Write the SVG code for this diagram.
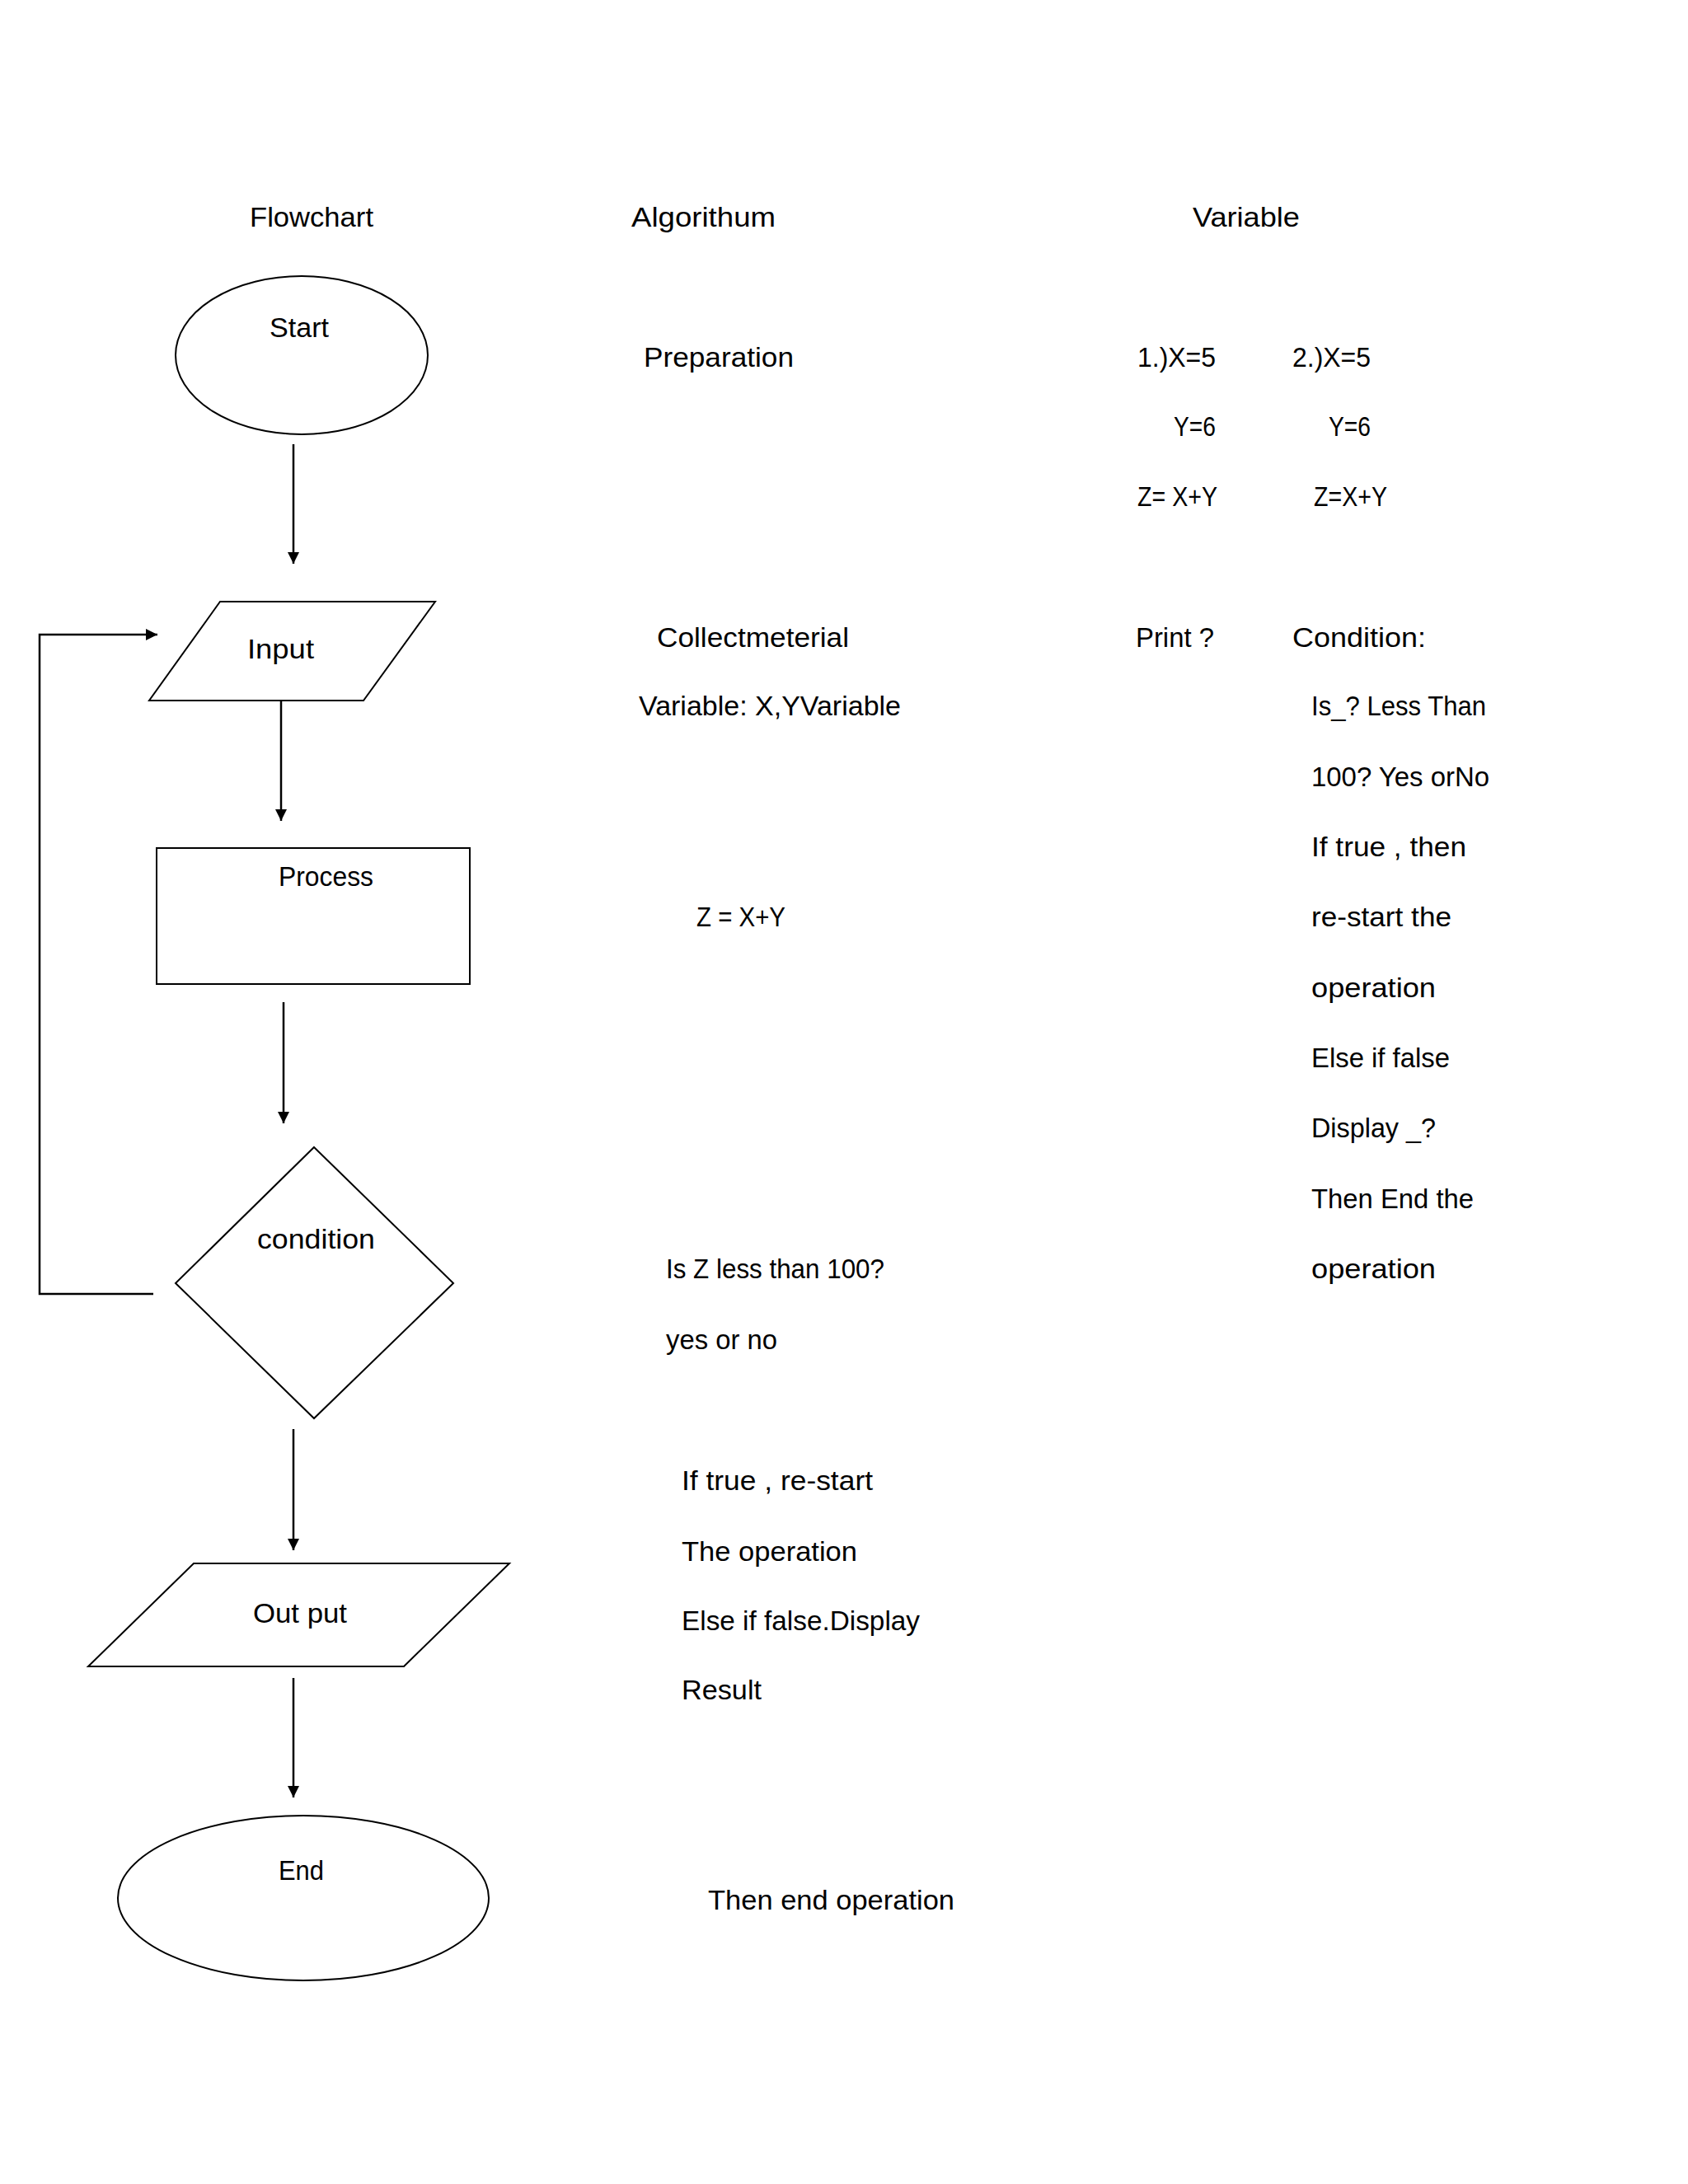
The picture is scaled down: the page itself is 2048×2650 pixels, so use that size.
<svg xmlns="http://www.w3.org/2000/svg" width="2048" height="2650" viewBox="0 0 2048 2650">
<style>
  .shape { fill: #ffffff; stroke: #000000; stroke-width: 2; }
  .conn { fill: none; stroke: #000000; stroke-width: 2.5; }
  text { font-family: "Liberation Sans", Arial, sans-serif; font-size: 34px; fill: #000000; }
</style>
<defs>
  <marker id="arrow" markerUnits="userSpaceOnUse" markerWidth="14" markerHeight="14" refX="14" refY="7" orient="auto">
    <path d="M0,0 L14,7 L0,14 z" fill="#000000"/>
  </marker>
</defs>
<rect x="0" y="0" width="2048" height="2650" fill="#ffffff"/>

<g id="headers">
  <text x="303" y="275" textLength="150" lengthAdjust="spacingAndGlyphs">Flowchart</text>
  <text x="766" y="275" textLength="175" lengthAdjust="spacingAndGlyphs">Algorithum</text>
  <text x="1447" y="275" textLength="130" lengthAdjust="spacingAndGlyphs">Variable</text>
</g>

<g id="connectors">
  <line class="conn" x1="356" y1="539" x2="356" y2="684" marker-end="url(#arrow)"/>
  <line class="conn" x1="341" y1="850" x2="341" y2="996" marker-end="url(#arrow)"/>
  <line class="conn" x1="344" y1="1216" x2="344" y2="1363" marker-end="url(#arrow)"/>
  <line class="conn" x1="356" y1="1734" x2="356" y2="1881" marker-end="url(#arrow)"/>
  <line class="conn" x1="356" y1="2036" x2="356" y2="2181" marker-end="url(#arrow)"/>
  <polyline class="conn" points="186,1570 48,1570 48,770 191,770" marker-end="url(#arrow)"/>
</g>

<g id="node-start">
  <ellipse class="shape" cx="366" cy="431" rx="153" ry="96"/>
  <text x="327" y="409" textLength="72" lengthAdjust="spacingAndGlyphs">Start</text>
</g>

<g id="node-input">
  <polygon class="shape" points="267,730 528,730 441,850 181,850"/>
  <text x="300" y="799" textLength="81" lengthAdjust="spacingAndGlyphs">Input</text>
</g>

<g id="node-process">
  <rect class="shape" x="190" y="1029" width="380" height="165"/>
  <text x="338" y="1075" textLength="115" lengthAdjust="spacingAndGlyphs">Process</text>
</g>

<g id="node-condition">
  <polygon class="shape" points="381,1392 550,1557 381,1721 213,1557"/>
  <text x="312" y="1515" textLength="143" lengthAdjust="spacingAndGlyphs">condition</text>
</g>

<g id="node-output">
  <polygon class="shape" points="235,1897 618,1897 490,2022 107,2022"/>
  <text x="307" y="1969" textLength="114" lengthAdjust="spacingAndGlyphs">Out put</text>
</g>

<g id="node-end">
  <ellipse class="shape" cx="368" cy="2303" rx="225" ry="100"/>
  <text x="338" y="2281" textLength="55" lengthAdjust="spacingAndGlyphs">End</text>
</g>

<g id="algorithm-text">
  <text x="781" y="445" textLength="182" lengthAdjust="spacingAndGlyphs">Preparation</text>
  <text x="797" y="785" textLength="233" lengthAdjust="spacingAndGlyphs">Collectmeterial</text>
  <text x="775" y="868" textLength="318" lengthAdjust="spacingAndGlyphs">Variable: X,YVariable</text>
  <text x="845" y="1124" textLength="108" lengthAdjust="spacingAndGlyphs">Z = X+Y</text>
  <text x="808" y="1551" textLength="265" lengthAdjust="spacingAndGlyphs">Is Z less than 100?</text>
  <text x="808" y="1637" textLength="135" lengthAdjust="spacingAndGlyphs">yes or no</text>
  <text x="827" y="1808" textLength="232" lengthAdjust="spacingAndGlyphs">If true , re-start</text>
  <text x="827" y="1894" textLength="213" lengthAdjust="spacingAndGlyphs">The operation</text>
  <text x="827" y="1978" textLength="289" lengthAdjust="spacingAndGlyphs">Else if false.Display</text>
  <text x="827" y="2062" textLength="97" lengthAdjust="spacingAndGlyphs">Result</text>
  <text x="859" y="2317" textLength="299" lengthAdjust="spacingAndGlyphs">Then end operation</text>
</g>

<g id="variable-text">
  <text x="1380" y="445" textLength="95" lengthAdjust="spacingAndGlyphs">1.)X=5</text>
  <text x="1568" y="445" textLength="95" lengthAdjust="spacingAndGlyphs">2.)X=5</text>
  <text x="1424" y="529" textLength="51" lengthAdjust="spacingAndGlyphs">Y=6</text>
  <text x="1612" y="529" textLength="51" lengthAdjust="spacingAndGlyphs">Y=6</text>
  <text x="1380" y="614" textLength="97" lengthAdjust="spacingAndGlyphs">Z= X+Y</text>
  <text x="1594" y="614" textLength="89" lengthAdjust="spacingAndGlyphs">Z=X+Y</text>
  <text x="1378" y="785" textLength="95" lengthAdjust="spacingAndGlyphs">Print ?</text>
  <text x="1568" y="785" textLength="162" lengthAdjust="spacingAndGlyphs">Condition:</text>
  <text x="1591" y="868" textLength="212" lengthAdjust="spacingAndGlyphs">Is_? Less Than</text>
  <text x="1591" y="954" textLength="216" lengthAdjust="spacingAndGlyphs">100? Yes orNo</text>
  <text x="1591" y="1039" textLength="188" lengthAdjust="spacingAndGlyphs">If true , then</text>
  <text x="1591" y="1124" textLength="170" lengthAdjust="spacingAndGlyphs">re-start the</text>
  <text x="1591" y="1210" textLength="151" lengthAdjust="spacingAndGlyphs">operation</text>
  <text x="1591" y="1295" textLength="168" lengthAdjust="spacingAndGlyphs">Else if false</text>
  <text x="1591" y="1380" textLength="151" lengthAdjust="spacingAndGlyphs">Display _?</text>
  <text x="1591" y="1466" textLength="197" lengthAdjust="spacingAndGlyphs">Then End the</text>
  <text x="1591" y="1551" textLength="151" lengthAdjust="spacingAndGlyphs">operation</text>
</g>
</svg>
